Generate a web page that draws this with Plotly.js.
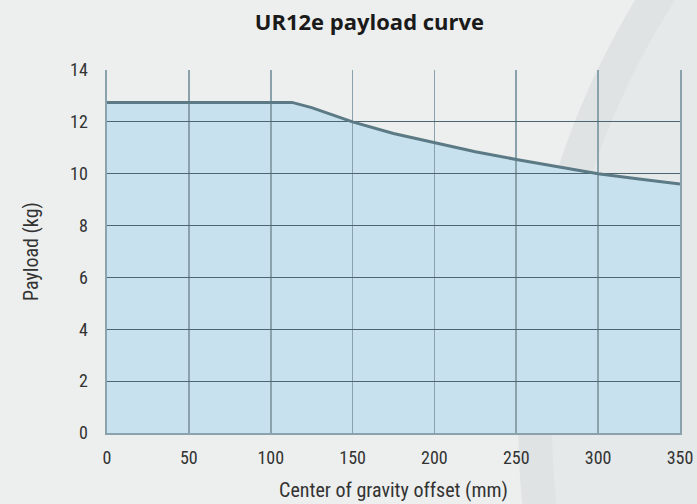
<!DOCTYPE html>
<html>
<head>
<meta charset="utf-8">
<script src="https://cdn.plot.ly/plotly-3.0.1.min.js"></script>
<style>
  html, body { margin: 0; padding: 0; background: #edefee; }
  #wrap { position: relative; width: 697px; height: 504px; overflow: hidden; }
  #bg { position: absolute; left: 0; top: 0; }
  #chart { position: absolute; left: 0; top: 0; width: 697px; height: 504px; }
</style>
</head>
<body>
<div id="wrap">
  <svg id="bg" width="697" height="504" xmlns="http://www.w3.org/2000/svg">
    <rect width="697" height="504" fill="#edefee"/>
    <circle cx="1330" cy="420" r="812" fill="#e0e3e3"/>
    <circle cx="1330" cy="420" r="778" fill="#e6e9e9"/>
  </svg>
  <div id="chart"></div>
</div>
<script>
// Center of gravity offset (mm)
const offsetMm = [0, 113, 125, 150, 175, 200, 225, 250, 275, 300, 325, 350];
// Payload (kg)
const payloadKg = [12.75, 12.75, 12.55, 12.0, 11.55, 11.2, 10.85, 10.55, 10.27, 10.0, 9.8, 9.6];
const xTicks = [0, 50, 100, 150, 200, 250, 300, 350];
const yTicks = [0, 2, 4, 6, 8, 10, 12, 14];

const tickFont = "'Roboto Condensed', 'Liberation Sans Narrow', Roboto, sans-serif";

// area under the curve (drawn below the grid)
const areaTrace = {
  x: offsetMm,
  y: payloadKg,
  xaxis: 'x', yaxis: 'y',
  type: 'scatter',
  mode: 'lines',
  fill: 'tozeroy',
  fillcolor: '#c8e1ee',
  line: { color: 'rgba(0,0,0,0)', width: 0 },
  hoverinfo: 'skip'
};
// curve line (drawn above the grid)
const lineTrace = {
  x: offsetMm,
  y: payloadKg,
  xaxis: 'x2', yaxis: 'y2',
  type: 'scatter',
  mode: 'lines',
  line: { color: '#5b7a85', width: 3 },
  hoverinfo: 'x+y'
};

const hiddenAxis = {
  showgrid: false, zeroline: false, showline: false,
  showticklabels: false, ticks: ''
};

const layout = {
  width: 697,
  height: 504,
  margin: { l: 107, r: 17, t: 70, b: 71 },
  paper_bgcolor: 'rgba(0,0,0,0)',
  plot_bgcolor: 'rgba(0,0,0,0)',
  showlegend: false,
  font: { family: tickFont, color: '#333333', size: 18 },
  title: {
    text: '<b>UR12e payload curve</b>',
    font: { family: "'Open Sans', sans-serif", size: 22, color: '#1a1a1a' },
    x: 0.53, xanchor: 'center',
    y: 0.955, yanchor: 'middle', yref: 'container'
  },
  xaxis: Object.assign({ range: [0, 350], domain: [0, 1], anchor: 'y' }, hiddenAxis),
  yaxis: Object.assign({ range: [0, 14], domain: [0, 1], anchor: 'x' }, hiddenAxis),
  xaxis2: {
    range: [0, 350],
    domain: [0, 1],
    anchor: 'y2',
    tickvals: xTicks,
    ticktext: xTicks.map(String),
    showgrid: true,
    gridcolor: '#8aa2ac',
    gridwidth: 1.6,
    zeroline: false,
    showline: true,
    linecolor: '#8aa2ac',
    linewidth: 1.6,
    ticks: 'outside',
    ticklen: 8,
    tickcolor: 'rgba(0,0,0,0)',
    tickfont: { family: tickFont, size: 18, color: '#333333' },
    title: { text: 'Center of gravity offset (mm)', font: { family: tickFont, size: 20, color: '#333333' }, standoff: 16 }
  },
  yaxis2: {
    range: [0, 14],
    domain: [0, 1],
    anchor: 'x2',
    tickvals: yTicks,
    ticktext: yTicks.map(String),
    showgrid: true,
    gridcolor: '#4d6570',
    gridwidth: 1,
    zeroline: false,
    showline: true,
    mirror: true,
    linecolor: '#8aa2ac',
    linewidth: 1.6,
    ticks: 'outside',
    ticklen: 14,
    tickcolor: 'rgba(0,0,0,0)',
    tickfont: { family: tickFont, size: 18, color: '#333333' },
    title: { text: 'Payload (kg)', font: { family: tickFont, size: 20, color: '#333333' }, standoff: 26 }
  }
};

Plotly.newPlot('chart', [areaTrace, lineTrace], layout, { displayModeBar: false, staticPlot: true });
</script>
</body>
</html>
